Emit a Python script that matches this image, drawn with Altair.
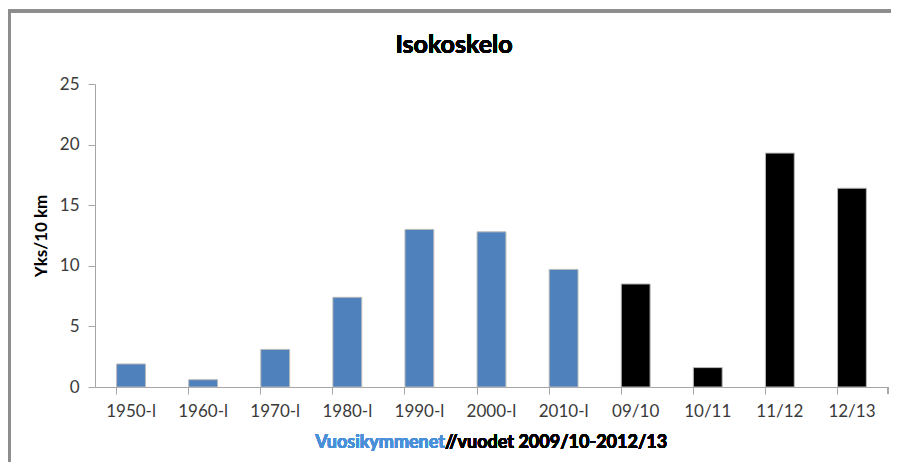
import altair as alt
import pandas as pd

categories = ["1950-l", "1960-l", "1970-l", "1980-l", "1990-l", "2000-l", "2010-l",
              "09/10", "10/11", "11/12", "12/13"]
values = [1.9, 0.6, 3.1, 7.4, 13.0, 12.8, 9.7, 8.5, 1.6, 19.3, 16.4]
groups = ["Vuosikymmenet"] * 7 + ["Vuodet"] * 4
group_colors = ["#4F81BD", "#000000"]

title_text = "Isokoskelo"
y_title = "Yks/10 km"
x_title_blue = "Vuosikymmenet"
x_title_black = "//vuodet 2009/10-2012/13"

df = pd.DataFrame({"cat": categories, "val": values, "grp": groups})

W, H = 793, 303
FONT = "Lato"
AXIS_GRAY = "#a6a6a6"

bars = alt.Chart(df).mark_bar(stroke="#b8b8b8", strokeWidth=1).encode(
    x=alt.X("cat:N", sort=categories,
            scale=alt.Scale(paddingInner=0.6, paddingOuter=0.3),
            axis=alt.Axis(title=None, labelAngle=0, bandPosition=0, tickSize=7,
                          labelPadding=9, labelFontSize=17, labelFont=FONT,
                          labelColor="#3a3a3a", domainColor=AXIS_GRAY,
                          tickColor=AXIS_GRAY, grid=False)),
    y=alt.Y("val:Q", scale=alt.Scale(domain=[0, 25]),
            axis=alt.Axis(title=y_title, values=[0, 5, 10, 15, 20, 25], tickSize=7,
                          labelPadding=9, labelFontSize=17, labelFont=FONT,
                          labelColor="#3a3a3a", domainColor=AXIS_GRAY,
                          tickColor=AXIS_GRAY, grid=False,
                          titleFont=FONT, titleFontSize=17, titleFontWeight="bold",
                          titleColor="#000000", titlePadding=9)),
    color=alt.Color("grp:N", scale=alt.Scale(domain=["Vuosikymmenet", "Vuodet"],
                                             range=group_colors), legend=None),
)

end_tick = alt.Chart(df).mark_rule(color=AXIS_GRAY, strokeWidth=1).encode(
    x=alt.value(W), y=alt.value(H), y2=alt.value(H + 7)
)

title = alt.Chart(df).mark_text(text=title_text, font=FONT, fontSize=25,
                                fontWeight="bold", color="#000000",
                                align="center", baseline="middle").encode(
    x=alt.value(359), y=alt.value(-39)
)

xt_blue = alt.Chart(df).mark_text(text=x_title_blue, font=FONT, fontSize=18,
                                  fontWeight="bold", color="#4A90D9",
                                  align="right", baseline="middle").encode(
    x=alt.value(350), y=alt.value(359)
)
xt_black = alt.Chart(df).mark_text(text=x_title_black, font=FONT, fontSize=18,
                                   fontWeight="bold", color="#000000",
                                   align="left", baseline="middle").encode(
    x=alt.value(350), y=alt.value(359)
)

frame_top = alt.Chart(df).mark_rule(color="#8c8c8c", strokeWidth=2.5).encode(
    x=alt.value(-87), x2=alt.value(800), y=alt.value(-73)
)
frame_left = alt.Chart(df).mark_rule(color="#8c8c8c", strokeWidth=2.5).encode(
    x=alt.value(-86), y=alt.value(-74), y2=alt.value(380)
)

chart = alt.layer(bars, end_tick, title, xt_blue, xt_black, frame_top, frame_left).properties(
    width=W, height=H,
    autosize=alt.AutoSizeParams(type="none"),
    padding={"left": 87, "top": 76, "right": 3, "bottom": 75},
    background="#ffffff",
).configure_view(stroke=None)

chart.save("out.html", embed_options={"renderer": "svg", "actions": False})
